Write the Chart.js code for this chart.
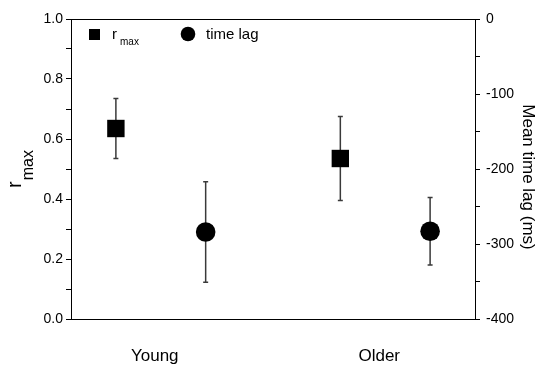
<!DOCTYPE html>
<html>
<head>
<meta charset="utf-8">
<script src="https://cdn.jsdelivr.net/npm/chart.js@4.4.0/dist/chart.umd.min.js"></script>
<style>
  body { margin: 0; background: #fff; }
  canvas { display: block; }
</style>
</head>
<body>
<canvas id="myChart" width="537" height="365"></canvas>
<script>
// data
const groups = ["Young", "Older"];
const rmaxMean = [0.635, 0.535];
const rmaxErr = [0.1, 0.14];
const lagMean = [-284, -283];
const lagErr = [67, 45];

const FONT = "'Liberation Sans', Arial, sans-serif";
const offset = 0.2; // square left of group, circle right of group

const rmaxPoints = groups.map((g, i) => ({ x: i + 1 - offset, y: rmaxMean[i] }));
const lagPoints = groups.map((g, i) => ({ x: i + 1 + offset, y: lagMean[i] }));

// error bars + frame + titles + legend
const extrasPlugin = {
  id: "extras",
  beforeDatasetsDraw(chart) {
    const ctx = chart.ctx;
    const xs = chart.scales.x;
    ctx.save();
    ctx.strokeStyle = "#3a3a3a";
    ctx.lineWidth = 1.5;
    const drawBar = (x, lo, hi, scale) => {
      const px = xs.getPixelForValue(x);
      const y1 = scale.getPixelForValue(lo);
      const y2 = scale.getPixelForValue(hi);
      ctx.beginPath();
      ctx.moveTo(px, y1);
      ctx.lineTo(px, y2);
      ctx.moveTo(px - 2.5, y1);
      ctx.lineTo(px + 2.5, y1);
      ctx.moveTo(px - 2.5, y2);
      ctx.lineTo(px + 2.5, y2);
      ctx.stroke();
    };
    rmaxPoints.forEach((p, i) => drawBar(p.x, p.y - rmaxErr[i], p.y + rmaxErr[i], chart.scales.y));
    lagPoints.forEach((p, i) => drawBar(p.x, p.y - lagErr[i], p.y + lagErr[i], chart.scales.y2));
    ctx.restore();
  },
  afterDraw(chart) {
    const ctx = chart.ctx;
    const area = chart.chartArea;
    ctx.save();
    // top frame line
    ctx.strokeStyle = "#000";
    ctx.lineWidth = 1;
    ctx.beginPath();
    ctx.moveTo(area.left, area.top + 0.5);
    ctx.lineTo(area.right, area.top + 0.5);
    ctx.stroke();

    ctx.fillStyle = "#000";
    ctx.textAlign = "left";
    ctx.textBaseline = "alphabetic";

    // left title r_max (rotated)
    ctx.save();
    ctx.translate(21, 188);
    ctx.rotate(-Math.PI / 2);
    ctx.font = "20px " + FONT;
    ctx.fillText("r", 0, 0);
    const rw = ctx.measureText("r").width;
    ctx.font = "16px " + FONT;
    ctx.fillText("max", rw + 1, 12);
    ctx.restore();

    // right title
    ctx.save();
    ctx.translate(523, 177);
    ctx.rotate(Math.PI / 2);
    ctx.textAlign = "center";
    ctx.font = "17px " + FONT;
    ctx.fillText("Mean time lag (ms)", 0, 0);
    ctx.restore();

    // legend
    ctx.fillRect(89, 29, 11, 11);
    ctx.font = "15px " + FONT;
    ctx.fillText("r", 112, 39);
    ctx.font = "10px " + FONT;
    ctx.fillText("max", 120, 45);
    ctx.beginPath();
    ctx.arc(188, 34, 7.3, 0, Math.PI * 2);
    ctx.fill();
    ctx.font = "15px " + FONT;
    ctx.fillText(chart.data.datasets[1].label, 206, 39);
    ctx.restore();
  },
};

const ctx = document.getElementById("myChart").getContext("2d");
const myChart = new Chart(ctx, {
  type: "scatter",
  data: {
    datasets: [
      {
        label: "r max",
        data: rmaxPoints,
        yAxisID: "y",
        pointStyle: "rect",
        pointRadius: 12.3,
        backgroundColor: "#000",
        borderColor: "#000",
        borderWidth: 0,
      },
      {
        label: "time lag",
        data: lagPoints,
        yAxisID: "y2",
        pointStyle: "circle",
        pointRadius: 9.8,
        backgroundColor: "#000",
        borderColor: "#000",
        borderWidth: 0,
      },
    ],
  },
  options: {
    responsive: false,
    animation: false,
    devicePixelRatio: 1,
    layout: { padding: { top: 19, left: 0, right: 0, bottom: 0 } },
    plugins: {
      legend: { display: false },
      tooltip: { enabled: false },
    },
    scales: {
      x: {
        type: "linear",
        position: "bottom",
        min: 0.6,
        max: 2.4,
        afterBuildTicks: (scale) => {
          scale.ticks = groups.map((g, i) => ({ value: i + 1 }));
        },
        afterFit: (scale) => {
          scale.height = 46;
        },
        ticks: {
          callback: (value, index) => groups[index],
          font: { family: FONT, size: 17 },
          color: "#000",
          padding: 27,
          labelOffset: -6,
          autoSkip: false,
          maxRotation: 0,
        },
        grid: { drawOnChartArea: false, drawTicks: false },
        border: { color: "#000", width: 1 },
      },
      y: {
        position: "left",
        min: 0,
        max: 1,
        afterFit: (scale) => {
          scale.width = 71;
        },
        ticks: {
          stepSize: 0.1,
          autoSkip: false,
          callback: (value) => {
            const t = Math.round(value * 10);
            return t % 2 === 0 ? (t / 10).toFixed(1) : "";
          },
          font: { family: FONT, size: 14 },
          color: "#000",
          padding: 3,
        },
        grid: { drawOnChartArea: false, tickLength: 5, tickColor: "#000" },
        border: { color: "#000", width: 1 },
      },
      y2: {
        position: "right",
        min: -400,
        max: 0,
        afterFit: (scale) => {
          scale.width = 62;
        },
        ticks: {
          stepSize: 50,
          autoSkip: false,
          callback: (value) => (value % 100 === 0 ? String(value) : ""),
          font: { family: FONT, size: 14 },
          color: "#000",
          padding: 6,
        },
        grid: { drawOnChartArea: false, tickLength: 5, tickColor: "#000" },
        border: { color: "#000", width: 1 },
      },
    },
  },
  plugins: [extrasPlugin],
});
</script>
</body>
</html>
